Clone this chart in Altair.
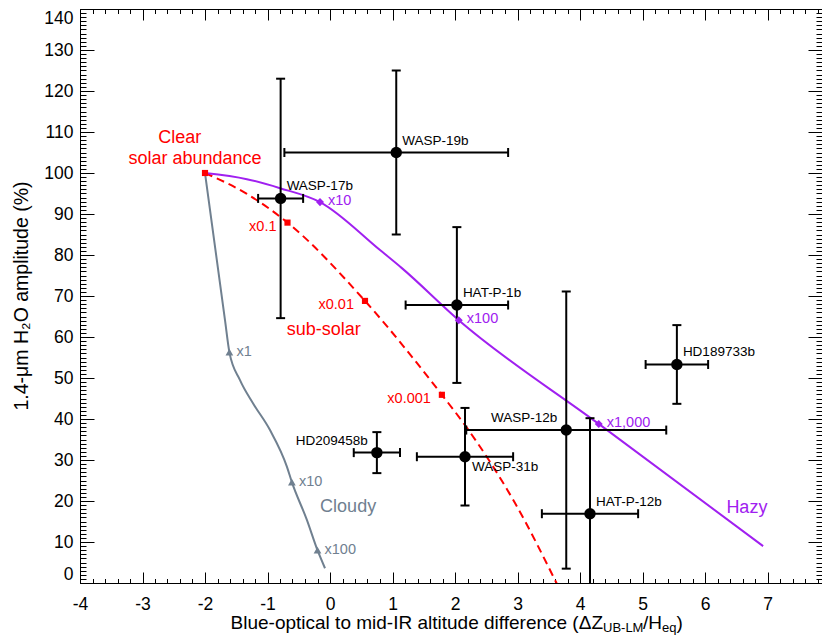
import altair as alt
import pandas as pd

# ---------------- observed planets ----------------
planet = ["WASP-19b", "WASP-17b", "HAT-P-1b", "HD189733b", "WASP-12b", "HAT-P-12b", "WASP-31b", "HD209458b"]
dz = [1.06, -0.79, 2.03, 5.55, 3.78, 4.16, 2.16, 0.75]
dz_err = [1.79, 0.36, 0.82, 0.50, 1.60, 0.77, 0.77, 0.37]
amp = [105.0, 93.8, 67.8, 53.3, 37.3, 16.9, 30.8, 31.8]
amp_err = [20.0, 29.2, 19.0, 9.6, 33.8, 23.3, 11.9, 5.0]
label_side = ["upper right", "upper right", "upper right", "upper right",
              "upper left", "upper right", "lower right", "upper left"]

# ---------------- model tracks ----------------
cloudy_dz = [-2.0, -1.68, -1.61, -1.44, -1.23, -0.96, -0.69, -0.61, -0.37, -0.2, -0.08]
cloudy_amp = [100.0, 64.1, 56.3, 49.5, 43.8, 37.3, 28.4, 24.6, 15.4, 8.0, 3.6]
cloudy_mark_dz = [-1.61, -0.61, -0.2]
cloudy_mark_amp = [56.3, 24.6, 8.0]
cloudy_mark_lab = ["x1", "x10", "x100"]

subsolar_dz = [-2.0, -1.33, -0.68, 0.56, 1.79, 2.16, 2.96, 3.64]
subsolar_amp = [100.0, 94.9, 87.9, 68.8, 45.9, 38.5, 19.5, -0.5]
subsolar_mark_dz = [-2.0, -0.68, 0.56, 1.79]
subsolar_mark_amp = [100.0, 87.9, 68.8, 45.9]
subsolar_mark_lab = ["", "x0.1", "x0.01", "x0.001"]

hazy_dz = [-2.0, -1.33, -0.8, -0.16, 0.8, 1.15, 2.06, 4.3, 6.93]
hazy_amp = [100.0, 98.5, 96.3, 92.9, 81.2, 76.8, 64.1, 38.8, 9.0]
hazy_mark_dz = [-0.16, 2.06, 4.3]
hazy_mark_amp = [92.9, 64.1, 38.8]
hazy_mark_lab = ["x10", "x100", "x1,000"]

# ---------------- annotations ----------------
note_text = ["Clear", "solar abundance", "sub-solar", "Cloudy", "Hazy"]
note_dz = [-2.405, -2.16, -0.10, 0.29, 6.67]
note_amp = [108.5, 103.4, 61.7, 18.5, 18.3]
note_group = ["subsolar", "subsolar", "subsolar", "cloudy", "hazy"]

X_MAX = 7.872  # right edge of the visible plot area (the page cuts it just before 8)
x_major = list(range(-4, 8))
x_minor = [round(-4 + 0.2 * i, 1) for i in range(60)]
y_major = list(range(0, 141, 10))
y_minor = list(range(0, 141))

RED, PURPLE, GRAY = "#ff0000", "#a020f0", "#708090"
FONT = "Liberation Sans"
W, H = 742, 574

xs = alt.Scale(domain=[-4, X_MAX], nice=False, zero=False)
ys = alt.Scale(domain=[0, 140], nice=False, zero=False)

obs = pd.DataFrame({"planet": planet, "dz": dz, "dz_err": dz_err,
                    "amp": amp, "amp_err": amp_err, "side": label_side})
obs["dz_lo"] = obs["dz"] - obs["dz_err"]
obs["dz_hi"] = obs["dz"] + obs["dz_err"]
obs["amp_lo"] = obs["amp"] - obs["amp_err"]
obs["amp_hi"] = obs["amp"] + obs["amp_err"]


def X(field="dz"):
    return alt.X(f"{field}:Q", scale=xs, axis=None)


def Y(field="amp"):
    return alt.Y(f"{field}:Q", scale=ys, axis=None)


def tick_layer(xo, yo, xv, yv, xl, yl):
    return alt.Chart(obs).mark_point(opacity=0).encode(
        x=alt.X("dz:Q", scale=xs, axis=alt.Axis(
            orient=xo, values=xv, labels=False, domain=False, grid=False, ticks=True,
            tickSize=xl, offset=-xl, tickColor="black", tickWidth=1, title=None)),
        y=alt.Y("amp:Q", scale=ys, axis=alt.Axis(
            orient=yo, values=yv, labels=False, domain=False, grid=False, ticks=True,
            tickSize=yl, offset=-yl, tickColor="black", tickWidth=1, title=None)),
    )


ticks = [
    tick_layer("bottom", "left", x_major, y_major, 11, 14),
    tick_layer("bottom", "left", x_minor, y_minor, 4.5, 6),
    tick_layer("top", "right", x_major, y_major, 11, 14),
    tick_layer("top", "right", x_minor, y_minor, 4.5, 6),
]

# model lines
cloudy_line = alt.Chart(pd.DataFrame({"dz": cloudy_dz, "amp": cloudy_amp})).mark_line(
    color=GRAY, strokeWidth=2, clip=True, interpolate="monotone").encode(x=X(), y=Y())
sub_line = alt.Chart(pd.DataFrame({"dz": subsolar_dz, "amp": subsolar_amp})).mark_line(
    color=RED, strokeWidth=2, strokeDash=[8, 5], clip=True, interpolate="monotone").encode(x=X(), y=Y())
hazy_line = alt.Chart(pd.DataFrame({"dz": hazy_dz, "amp": hazy_amp})).mark_line(
    color=PURPLE, strokeWidth=2, clip=True, interpolate="monotone").encode(x=X(), y=Y())

cm = pd.DataFrame({"dz": cloudy_mark_dz, "amp": cloudy_mark_amp, "lab": cloudy_mark_lab})
sm = pd.DataFrame({"dz": subsolar_mark_dz, "amp": subsolar_mark_amp, "lab": subsolar_mark_lab})
hm = pd.DataFrame({"dz": hazy_mark_dz, "amp": hazy_mark_amp, "lab": hazy_mark_lab})

cloudy_pts = alt.Chart(cm).mark_point(shape="triangle-up", filled=True, size=60, color=GRAY,
                                      opacity=1).encode(x=X(), y=Y())
cloudy_txt = alt.Chart(cm).mark_text(align="left", baseline="middle", dx=7, fontSize=14.5,
                                     color=GRAY).encode(x=X(), y=Y(), text="lab:N")
sub_pts = alt.Chart(sm).mark_square(size=38, color=RED, opacity=1).encode(x=X(), y=Y())
sub_txt = alt.Chart(sm).mark_text(align="right", baseline="middle", dx=-11, dy=4, fontSize=14.5,
                                  color=RED).encode(x=X(), y=Y(), text="lab:N")
hazy_pts = alt.Chart(hm).mark_point(shape="diamond", filled=True, size=65, color=PURPLE,
                                    opacity=1).encode(x=X(), y=Y())
hazy_txt = alt.Chart(hm).mark_text(align="left", baseline="middle", dx=8, dy=-1, fontSize=14.5,
                                   color=PURPLE).encode(x=X(), y=Y(), text="lab:N")

# error bars
vbar = alt.Chart(obs).mark_rule(color="black", strokeWidth=2, clip=True).encode(
    x=X(), y=Y("amp_lo"), y2="amp_hi:Q")
hbar = alt.Chart(obs).mark_rule(color="black", strokeWidth=2, clip=True).encode(
    x=X("dz_lo"), x2="dz_hi:Q", y=Y())
vcap = alt.Chart(obs).transform_fold(["amp_lo", "amp_hi"], as_=["k", "yv"]).mark_tick(
    orient="horizontal", size=9, thickness=2, color="black", clip=True, opacity=1).encode(
    x=X(), y=Y("yv"))
hcap = alt.Chart(obs).transform_fold(["dz_lo", "dz_hi"], as_=["k", "xv"]).mark_tick(
    orient="vertical", size=9, thickness=2, color="black", clip=True, opacity=1).encode(
    x=X("xv"), y=Y())

pts = alt.Chart(obs).mark_circle(size=130, color="black", opacity=1).encode(
    x=alt.X("dz:Q", scale=xs, axis=alt.Axis(
        orient="bottom", values=x_major, labelExpr="datum.value + ''", labelFlush=False,
        labelFontSize=17.5, labelPadding=12, labelColor="black", labelFont=FONT,
        ticks=False, domain=False, grid=False, title=None, labelOverlap=False, labelBound=False)),
    y=alt.Y("amp:Q", scale=ys, axis=alt.Axis(
        orient="left", values=y_major, labelFlush=True, labelFontSize=17.5, labelPadding=7,
        labelColor="black", labelFont=FONT, ticks=False, domain=False, grid=False,
        title=None, labelOverlap=False)),
)

lab_ur = alt.Chart(obs).transform_filter("datum.side == 'upper right'").mark_text(
    align="left", baseline="middle", dx=6, dy=-12, fontSize=13.5, color="black").encode(
    x=X(), y=Y(), text="planet:N")
lab_ul = alt.Chart(obs).transform_filter("datum.side == 'upper left'").mark_text(
    align="right", baseline="middle", dx=-9, dy=-12, fontSize=13.5, color="black").encode(
    x=X(), y=Y(), text="planet:N")
lab_lr = alt.Chart(obs).transform_filter("datum.side == 'lower right'").mark_text(
    align="left", baseline="middle", dx=7, dy=10, fontSize=13.5, color="black").encode(
    x=X(), y=Y(), text="planet:N")

notes = alt.Chart(pd.DataFrame({"t": note_text, "dz": note_dz, "amp": note_amp, "g": note_group})).mark_text(
    align="center", baseline="middle", fontSize=18).encode(
    x=X(), y=Y(), text="t:N",
    color=alt.Color("g:N", scale=alt.Scale(domain=["subsolar", "cloudy", "hazy"],
                                           range=[RED, GRAY, PURPLE]), legend=None))


# axis titles (composed, with subscripts)
def title_piece(txt, x, y, size, align="left", angle=0):
    return alt.Chart(pd.DataFrame({"t": [txt]})).mark_text(
        align=align, baseline="middle", fontSize=size, color="black", angle=angle).encode(
        x=alt.value(x), y=alt.value(y), text="t:N")


xt_y = 614
titles = [
    title_piece("Blue-optical to mid-IR altitude difference (\u0394Z", 523, xt_y, 19, align="right"),
    title_piece("UB-LM", 523, xt_y + 5, 13),
    title_piece("/H", 563, xt_y, 19),
    title_piece("eq", 582, xt_y + 5, 13),
    title_piece(")", 596.5, xt_y, 19),
    title_piece("1.4-\u03bcm H\u2082O amplitude (%)", -58, 287, 19.5, align="center", angle=270),
]

chart = alt.layer(
    *ticks, cloudy_line, sub_line, hazy_line,
    vbar, hbar, vcap, hcap, pts,
    cloudy_pts, sub_pts, hazy_pts, cloudy_txt, sub_txt, hazy_txt,
    lab_ur, lab_ul, lab_lr, notes, *titles,
).resolve_axis(x="independent", y="independent").properties(
    width=W, height=H,
    autosize=alt.AutoSizeParams(type="none"),
    padding={"left": 72, "top": 1, "right": 0, "bottom": 54},
).configure(font=FONT).configure_view(stroke="black", strokeWidth=1)

chart.save("out.html", embed_options={"renderer": "svg", "actions": False})
